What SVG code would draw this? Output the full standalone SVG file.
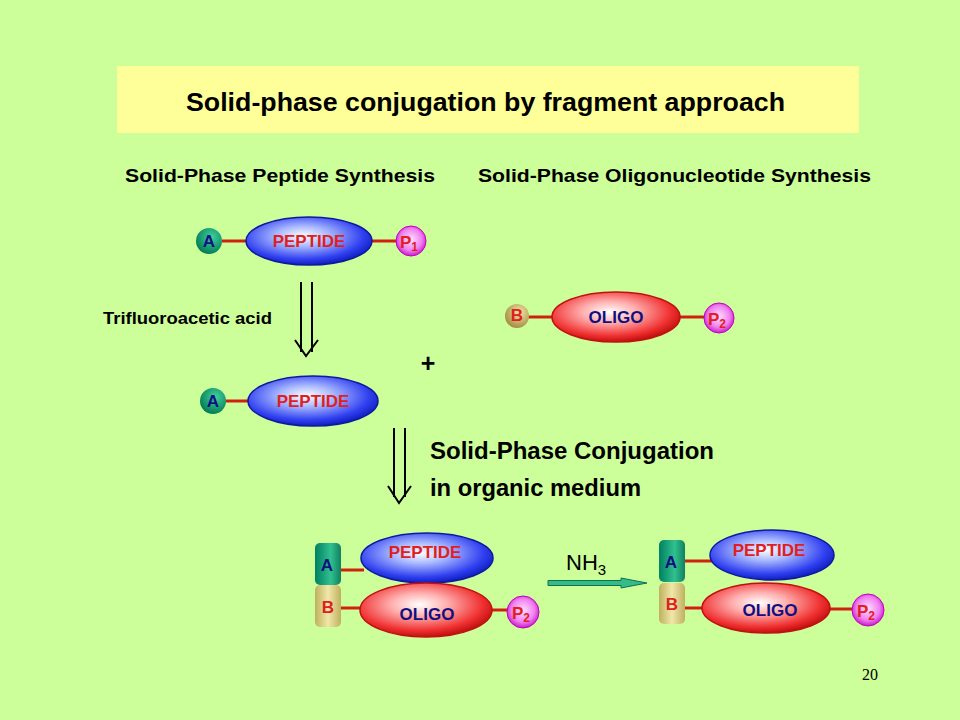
<svg xmlns="http://www.w3.org/2000/svg" width="960" height="720" viewBox="0 0 960 720">
<defs>
<radialGradient id="gPep" cx="0.45" cy="0.4" r="0.6">
<stop offset="0" stop-color="#ffffff"/><stop offset="0.35" stop-color="#a8b8ff"/><stop offset="0.8" stop-color="#3040f0"/><stop offset="1" stop-color="#1020c0"/>
</radialGradient>
<radialGradient id="gOli" cx="0.45" cy="0.4" r="0.6">
<stop offset="0" stop-color="#ffffff"/><stop offset="0.35" stop-color="#ffb0b0"/><stop offset="0.8" stop-color="#f03030"/><stop offset="1" stop-color="#c01010"/>
</radialGradient>
<radialGradient id="gA" cx="0.6" cy="0.35" r="0.7">
<stop offset="0" stop-color="#40d0a0"/><stop offset="1" stop-color="#007850"/>
</radialGradient>
<linearGradient id="gAr" x1="0" y1="0" x2="1" y2="0">
<stop offset="0" stop-color="#008060"/><stop offset="0.6" stop-color="#30c090"/><stop offset="1" stop-color="#108060"/>
</linearGradient>
<radialGradient id="gB" cx="0.6" cy="0.35" r="0.7">
<stop offset="0" stop-color="#f0e8a0"/><stop offset="1" stop-color="#a08840"/>
</radialGradient>
<linearGradient id="gBr" x1="0" y1="0" x2="1" y2="0">
<stop offset="0" stop-color="#c0b060"/><stop offset="0.5" stop-color="#f0e8a8"/><stop offset="1" stop-color="#c0b060"/>
</linearGradient>
<radialGradient id="gP" cx="0.5" cy="0.45" r="0.6">
<stop offset="0" stop-color="#ffe0ff"/><stop offset="0.6" stop-color="#f080f0"/><stop offset="1" stop-color="#c000c0"/>
</radialGradient>
<style>
.t{font-family:"Liberation Sans",Arial,sans-serif;font-weight:bold}
.pep{fill:url(#gPep);stroke:#1018a0;stroke-width:1.5}
.oli{fill:url(#gOli);stroke:#c01010;stroke-width:1.5}
.lk{stroke:#d02010;stroke-width:3}
.pt{font-family:"Liberation Sans",Arial,sans-serif;font-weight:bold;font-size:17px;fill:#e02020;text-anchor:middle}
.ot{font-family:"Liberation Sans",Arial,sans-serif;font-weight:bold;font-size:17px;fill:#101080;text-anchor:middle}
.lA{font-family:"Liberation Sans",Arial,sans-serif;font-weight:bold;font-size:17px;fill:#101080;text-anchor:middle}
.lB{font-family:"Liberation Sans",Arial,sans-serif;font-weight:bold;font-size:17px;fill:#e02020;text-anchor:middle}
.arr{stroke:#000;stroke-width:2;fill:none}
</style>
</defs>
<rect width="960" height="720" fill="#ccff99"/>
<g id="title">
<rect x="117" y="66" width="742" height="67" fill="#ffff99"/>
<text x="186" y="111" class="t" font-size="26" textLength="599" lengthAdjust="spacingAndGlyphs" fill="#000">Solid-phase conjugation by fragment approach</text>
</g>
<g id="headings">
<text x="125" y="182" class="t" font-size="19" textLength="310" lengthAdjust="spacingAndGlyphs" fill="#000">Solid-Phase Peptide Synthesis</text>
<text x="478" y="182" class="t" font-size="19" textLength="393" lengthAdjust="spacingAndGlyphs" fill="#000">Solid-Phase Oligonucleotide Synthesis</text>
</g>
<g id="peptide1">
<line x1="222" y1="241" x2="248" y2="241" class="lk"/>
<line x1="370" y1="241" x2="398" y2="241" class="lk"/>
<circle cx="209" cy="241" r="13" fill="url(#gA)"/>
<text x="209" y="247" class="lA">A</text>
<ellipse cx="309" cy="241" rx="63" ry="24" class="pep"/>
<text x="309" y="247" class="pt">PEPTIDE</text>
<circle cx="411" cy="241" r="15" fill="url(#gP)" stroke="#c000c0"/>
<text x="409" y="248" class="lB" font-size="19">P<tspan font-size="12" dy="3">1</tspan></text>
</g>
<g id="oligo1">
<line x1="528" y1="317" x2="554" y2="317" class="lk"/>
<line x1="678" y1="317" x2="706" y2="317" class="lk"/>
<circle cx="517" cy="316" r="12" fill="url(#gB)"/>
<text x="517" y="321" class="lB" font-size="15">B</text>
<ellipse cx="616" cy="317" rx="64" ry="25" class="oli"/>
<text x="616" y="323" class="ot">OLIGO</text>
<circle cx="719" cy="318" r="15" fill="url(#gP)" stroke="#c000c0"/>
<text x="717" y="325" class="lB" font-size="19">P<tspan font-size="12" dy="3">2</tspan></text>
</g>
<g id="peptide2">
<line x1="225" y1="401" x2="250" y2="401" class="lk"/>
<circle cx="213" cy="401" r="13" fill="url(#gA)"/>
<text x="213" y="407" class="lA">A</text>
<ellipse cx="313" cy="401" rx="65" ry="25" class="pep"/>
<text x="313" y="407" class="pt">PEPTIDE</text>
</g>
<g id="labels">
<text x="103" y="324" class="t" font-size="17" textLength="169" lengthAdjust="spacingAndGlyphs" fill="#000">Trifluoroacetic acid</text>
<text x="428" y="372" class="t" font-size="25" fill="#000" text-anchor="middle">+</text>
<text x="430" y="459" class="t" font-size="23" textLength="284" lengthAdjust="spacingAndGlyphs" fill="#000">Solid-Phase Conjugation</text>
<text x="430" y="496" class="t" font-size="23" textLength="211" lengthAdjust="spacingAndGlyphs" fill="#000">in organic medium</text>
<text x="566" y="570" font-family="Liberation Sans,Arial,sans-serif" font-size="22" fill="#000">NH<tspan font-size="15" dy="5">3</tspan></text>
<text x="870" y="680" font-family="Liberation Serif,serif" font-size="16" fill="#000" text-anchor="middle">20</text>
</g>
<g id="conjugate1">
<line x1="340" y1="570" x2="364" y2="570" class="lk"/>
<line x1="340" y1="608" x2="362" y2="608" class="lk"/>
<line x1="490" y1="610" x2="509" y2="610" class="lk"/>
<rect x="315" y="585" width="26" height="42" rx="5" fill="url(#gBr)"/>
<rect x="315" y="543" width="26" height="42" rx="5" fill="url(#gAr)"/>
<text x="327" y="571" class="lA">A</text>
<text x="328" y="613" class="lB">B</text>
<ellipse cx="427" cy="558" rx="66" ry="25" class="pep"/>
<text x="425" y="558" class="pt">PEPTIDE</text>
<ellipse cx="426" cy="610" rx="66" ry="27" class="oli"/>
<text x="427" y="620" class="ot">OLIGO</text>
<circle cx="523" cy="612" r="16" fill="url(#gP)" stroke="#c000c0"/>
<text x="521" y="619" class="lB" font-size="19">P<tspan font-size="12" dy="3">2</tspan></text>
</g>
<g id="conjugate2">
<line x1="683" y1="561" x2="712" y2="561" class="lk"/>
<line x1="683" y1="608" x2="704" y2="608" class="lk"/>
<line x1="829" y1="609" x2="853" y2="609" class="lk"/>
<rect x="659" y="583" width="26" height="41" rx="5" fill="url(#gBr)"/>
<rect x="659" y="540" width="26" height="42" rx="5" fill="url(#gAr)"/>
<text x="671" y="568" class="lA">A</text>
<text x="672" y="610" class="lB">B</text>
<ellipse cx="772" cy="555" rx="62" ry="25" class="pep"/>
<text x="769" y="556" class="pt">PEPTIDE</text>
<ellipse cx="766" cy="608" rx="64" ry="25" class="oli"/>
<text x="770" y="616" class="ot">OLIGO</text>
<circle cx="868" cy="610" r="16" fill="url(#gP)" stroke="#c000c0"/>
<text x="866" y="617" class="lB" font-size="19">P<tspan font-size="12" dy="3">2</tspan></text>
</g>
<g id="connectors">
<path d="M301,282 V352 M312,282 V352" class="arr"/>
<path d="M295,340 L306,356 L318,340" class="arr"/>
<path d="M394,428 V497 M405,428 V497" class="arr"/>
<path d="M388,486 L399,503 L411,486" class="arr"/>
<path d="M548,580.5 H621 V578 L647,583 L621,588 V585.5 H548 Z" fill="#33bb88" stroke="#107050" stroke-width="1"/>
</g>
</svg>
